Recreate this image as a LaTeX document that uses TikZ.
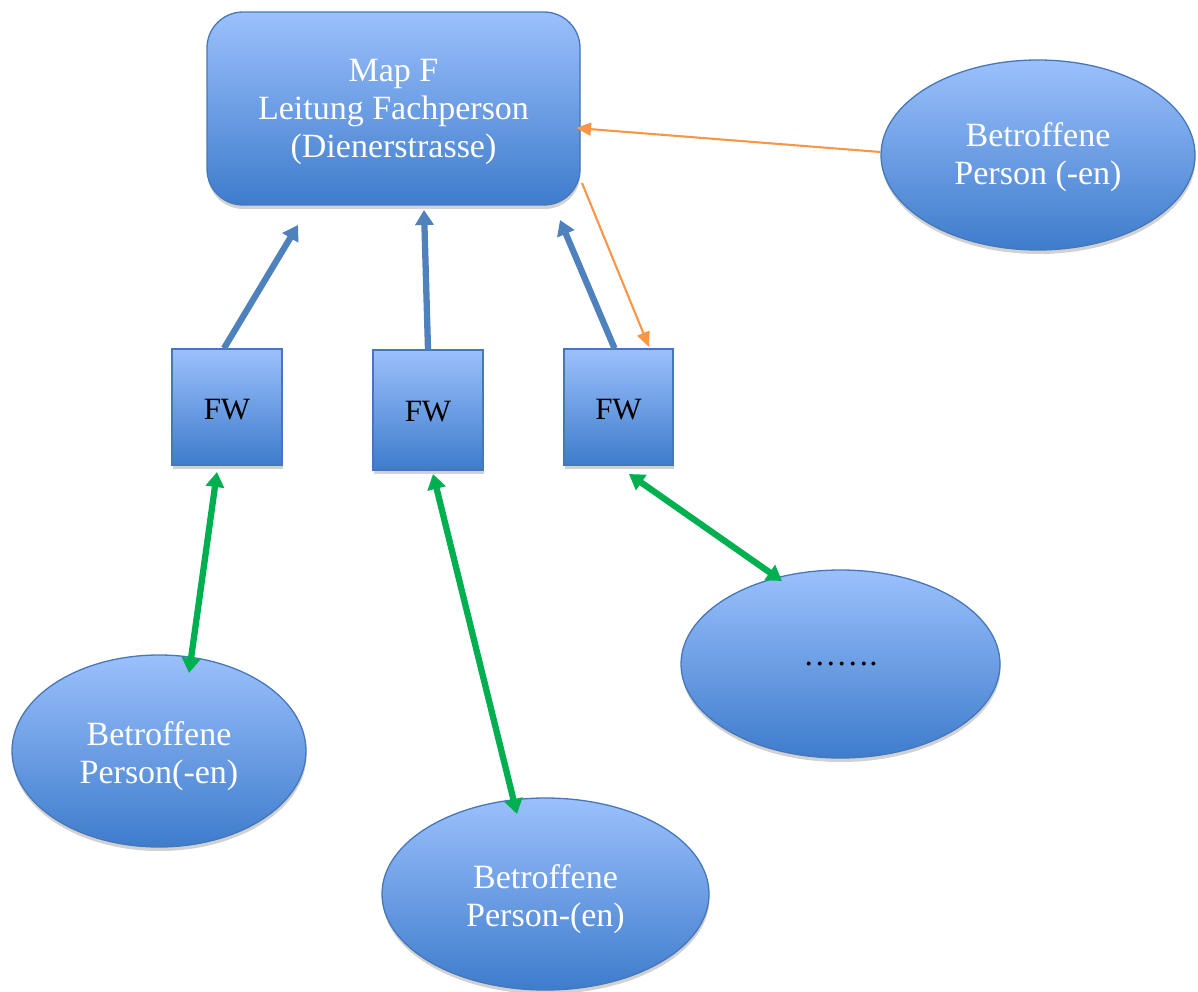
\documentclass[tikz,border=0pt]{standalone}
\usepackage{fontspec}
\setmainfont{Liberation Serif}
\usetikzlibrary{shapes.geometric,arrows.meta,shadows}
\definecolor{boxtop}{RGB}{155,192,252}
\definecolor{boxbot}{RGB}{62,124,204}
\definecolor{boxline}{RGB}{70,120,185}
\definecolor{bluearrow}{RGB}{79,129,189}
\definecolor{orangearrow}{RGB}{247,150,70}
\definecolor{greenarrow}{RGB}{0,176,80}
\tikzset{
  blueshape/.style={draw=boxline, line width=1.3pt, top color=boxtop, bottom color=boxbot,
    drop shadow={shadow xshift=0.5pt, shadow yshift=-4pt, opacity=0.18, fill=black},
    inner sep=0pt, align=center},
  whitetext/.style={text=white, align=center, font=\fontsize{34}{38}\selectfont},
  blacktext/.style={text=black, align=center, font=\fontsize{31}{36}\selectfont},
  mainbox/.style={blueshape, rectangle, rounded corners=36pt, minimum width=373pt, minimum height=193pt},
  fwbox/.style={blueshape, rectangle, minimum width=110pt, minimum height=116pt},
  personell/.style={blueshape, ellipse},
  bluearr/.style={draw=bluearrow, line width=6.3pt, -{Triangle[length=15pt,width=18pt]}},
  orangearr/.style={draw=orangearrow, line width=2.1pt, -{Triangle[length=15pt,width=13pt]}},
  greenarr/.style={draw=greenarrow, line width=6.3pt, {Triangle[length=15pt,width=18pt]}-{Triangle[length=15pt,width=18pt]}}
}
\begin{document}
\begin{tikzpicture}[x=1pt,y=-1pt]
\useasboundingbox (0,0) rectangle (1198,992);
\node[mainbox, label={[whitetext, yshift=-3pt]center:Map F\\Leitung Fachperson\\(Dienerstrasse)}] (map) at (393.5,108.5) {};
\node[personell, minimum width=314pt, minimum height=190pt, label={[whitetext, yshift=-2.5pt]center:Betroffene\\Person (-en)}] (pr) at (1038,155) {};
\node[fwbox, label={[blacktext, yshift=-3pt]center:FW}] (fw1) at (227,407) {};
\node[fwbox, minimum height=120pt, label={[blacktext, yshift=-2pt]center:FW}] (fw2) at (428,410) {};
\node[fwbox, minimum width=109pt, label={[blacktext, yshift=-3pt]center:FW}] (fw3) at (618.5,407) {};
\node[personell, minimum width=294pt, minimum height=192pt, label={[whitetext, yshift=-5pt]center:Betroffene\\Person(-en)}] (p1) at (159,751) {};
\node[personell, minimum width=327pt, minimum height=192pt, label={[whitetext, yshift=-5pt]center:Betroffene\\Person-(en)}] (p2) at (545.5,894) {};
\node[personell, minimum width=319pt, minimum height=188pt, label={[blacktext, font=\fontsize{33}{38}\selectfont]center:…….}] (p3) at (840.5,664) {};

\coordinate (b1e) at (298,225);
\coordinate (b2e) at (424,210);
\coordinate (b3e) at (560,220);
\draw[bluearr] ([xshift=-3pt]fw1.north) -- (b1e);
\draw[bluearr] (fw2.north) -- (b2e);
\draw[bluearr] ([xshift=-4pt]fw3.north) -- (b3e);

\coordinate (o1e) at (576,128);
\coordinate (o2s) at (582,183);
\coordinate (o2e) at (649,347);
\draw[orangearr] ([yshift=3pt]pr.west) -- (o1e);
\draw[orangearr] (o2s) -- (o2e);

\coordinate (g1a) at (217,472);
\coordinate (g1b) at (189,673);
\coordinate (g2a) at (433,474);
\coordinate (g2b) at (517,814);
\coordinate (g3a) at (629,474);
\coordinate (g3b) at (782,581);
\draw[greenarr] (g1a) -- (g1b);
\draw[greenarr] (g2a) -- (g2b);
\draw[greenarr] (g3a) -- (g3b);
\end{tikzpicture}
\end{document}
